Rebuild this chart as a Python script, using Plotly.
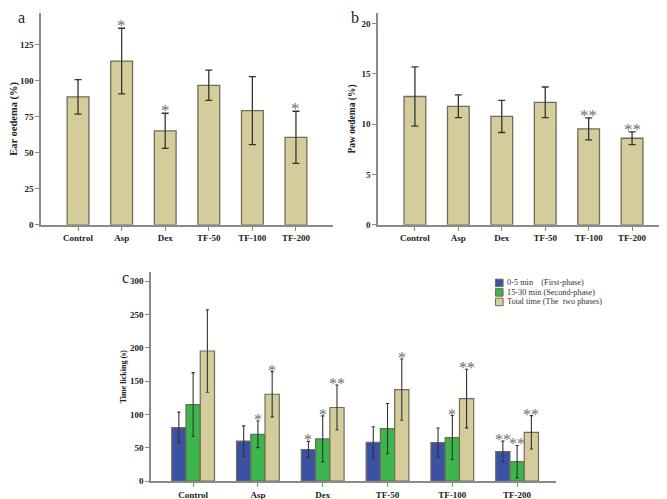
import plotly.graph_objects as go

groups = ["Control", "Asp", "Dex", "TF-50", "TF-100", "TF-200"]

# Panel a: Ear oedema (%)
ear_mean = [88.8, 113.6, 65.2, 96.8, 79.2, 60.7]
ear_err = [12.0, 22.8, 12.2, 10.5, 23.6, 18.1]
ear_sig = ["", "*", "*", "", "", "*"]

# Panel b: Paw oedema (%)
paw_mean = [12.75, 11.77, 10.77, 12.17, 9.53, 8.6]
paw_err = [2.95, 1.13, 1.6, 1.52, 1.1, 0.64]
paw_sig = ["", "", "", "", "**", "**"]

# Panel c: Time licking (s)
series_names = ["0-5 min\u00a0\u00a0\u00a0\u00a0(First-phase)",
                "15-30 min (Second-phase)",
                "Total time\u00a0(The\u00a0\u00a0two phases)"]
lick_first = [80.4, 60.3, 47.6, 58.5, 58.0, 44.6]
lick_first_err = [23.3, 22.8, 12.2, 23.3, 21.8, 15.5]
lick_second = [115.0, 70.4, 63.5, 78.9, 65.5, 29.3]
lick_second_err = [48.0, 20.0, 34.5, 37.7, 33.0, 24.3]
lick_total = [195.4, 130.5, 110.6, 137.4, 124.0, 73.4]
lick_total_err = [62.0, 34.0, 33.7, 46.0, 44.0, 25.0]
lick_sig = [
    ["", "", "*", "", "", "**"],
    ["", "*", "*", "", "*", "**"],
    ["", "*", "**", "*", "**", "**"],
]

KHAKI = "#d4cd9b"
BLUE = "#3b51a3"
GREEN = "#3cb54b"
OUTLINE = "#6f6c58"
AXIS = "#8a8a8a"
STAR = "#707070"
SERIF = "Liberation Serif"

W, H = 667, 499


def px_x(a, b):
    return [a / W, b / W]


def px_y(top, bottom):
    return [1 - bottom / H, 1 - top / H]


fig = go.Figure()

# Panel a
fig.add_trace(go.Bar(
    x=groups, y=ear_mean, width=0.5, marker=dict(color=KHAKI, line=dict(color=OUTLINE, width=1.3)),
    error_y=dict(type="data", array=ear_err, color="#333333", thickness=1.3, width=3.5),
    xaxis="x", yaxis="y", showlegend=False))

# Panel b
fig.add_trace(go.Bar(
    x=groups, y=paw_mean, width=0.5, marker=dict(color=KHAKI, line=dict(color=OUTLINE, width=1.3)),
    error_y=dict(type="data", array=paw_err, color="#333333", thickness=1.3, width=3.5),
    xaxis="x2", yaxis="y2", showlegend=False))

# Panel c
lick_means = [lick_first, lick_second, lick_total]
lick_errs = [lick_first_err, lick_second_err, lick_total_err]
colors = [BLUE, GREEN, KHAKI]
for name, m, e, c in zip(series_names, lick_means, lick_errs, colors):
    fig.add_trace(go.Bar(
        x=groups, y=m, name=name, showlegend=False,
        marker=dict(color=c, line=dict(color=OUTLINE, width=1.2)),
        error_y=dict(type="data", array=e, color="#333333", thickness=1.1, width=1.6),
        xaxis="x3", yaxis="y3"))

annotations = []
shapes = []


def add_sig(xref, yref, means, errs, sigs, xshift=0, size=17):
    for g, m, e, s in zip(groups, means, errs, sigs):
        if s:
            annotations.append(dict(
                x=g, y=m + e, xref=xref, yref=yref, text=s, showarrow=False,
                yanchor="bottom", xshift=xshift, yshift=-9,
                font=dict(family=SERIF, size=size, color=STAR)))


add_sig("x", "y", ear_mean, ear_err, ear_sig)
add_sig("x2", "y2", paw_mean, paw_err, paw_sig)
for i in range(3):
    add_sig("x3", "y3", lick_means[i], lick_errs[i], lick_sig[i], xshift=(i - 1) * 14.3, size=16)

for letter, xp, yp in [("a", 13, 10), ("b", 347, 10), ("c", 117, 272)]:
    annotations.append(dict(x=xp / W, y=1 - yp / H, xref="paper", yref="paper", text=letter,
                            showarrow=False, xanchor="center", yanchor="middle",
                            font=dict(family=SERIF, size=16, color="#222222")))

# legend (drawn as boxes + labels)
leg_x0, leg_row0, leg_dy, box = 487.5, 277.7, 9.6, 7.6
for i, (name, c) in enumerate(zip(series_names, colors)):
    yc = leg_row0 + i * leg_dy
    shapes.append(dict(type="rect", xref="paper", yref="paper",
                       x0=leg_x0 / W, x1=(leg_x0 + box) / W,
                       y0=1 - (yc + box / 2) / H, y1=1 - (yc - box / 2) / H,
                       fillcolor=c, line=dict(color=OUTLINE, width=1)))
    annotations.append(dict(x=(leg_x0 + box + 1.5) / W, y=1 - yc / H, xref="paper", yref="paper",
                            text=name, showarrow=False, xanchor="left", yanchor="middle",
                            font=dict(family=SERIF, size=8.3, color="#333333")))

tickfont = dict(family=SERIF, size=9, color="#222222")
catfont = dict(family=SERIF, size=9, color="#222222")


def tfont(s):
    return dict(family=SERIF, size=s, color="#222222")


xcommon = dict(type="category", showline=True, linecolor=AXIS, linewidth=1.5, ticks="outside",
               ticklen=4, tickcolor=AXIS, tickwidth=1.2, showgrid=False, zeroline=False,
               tickfont=catfont)
ycommon = dict(showline=True, linecolor=AXIS, linewidth=1.5, ticks="outside", ticklen=4,
               tickcolor=AXIS, tickwidth=1.2, showgrid=False, zeroline=False, tickfont=tickfont)

fig.update_layout(
    width=W, height=H, margin=dict(l=0, r=0, t=0, b=0),
    paper_bgcolor="white", plot_bgcolor="white",
    barmode="group", bargap=0.34, bargroupgap=0,
    font=dict(family=SERIF),
    showlegend=False,
    xaxis=dict(xcommon, domain=px_x(33, 325), range=[-0.85, 5.85], anchor="y"),
    yaxis=dict(ycommon, domain=px_y(5, 219), range=[0, 147], tickvals=[0, 25, 50, 75, 100, 125],
               anchor="x", title=dict(text="<b>Ear oedema (%)</b>", font=tfont(10.5), standoff=2)),
    xaxis2=dict(xcommon, domain=px_x(370, 661), range=[-0.85, 5.85], anchor="y2"),
    yaxis2=dict(ycommon, domain=px_y(5, 219), range=[0, 21.05], tickvals=[0, 5, 10, 15, 20],
                anchor="x2", title=dict(text="<b>Paw oedema (%)</b>", font=tfont(9.5), standoff=4)),
    xaxis3=dict(xcommon, domain=px_x(143, 548), range=[-0.65, 5.6], anchor="y3"),
    yaxis3=dict(ycommon, domain=px_y(267, 478), range=[0, 313.5],
                tickvals=[0, 50, 100, 150, 200, 250, 300],
                anchor="x3", title=dict(text="<b>Time licking (s)</b>", font=tfont(8), standoff=2)),
    annotations=annotations,
    shapes=shapes,
)

# bold category labels
for ax in ["xaxis", "xaxis2", "xaxis3"]:
    fig.layout[ax].tickvals = groups
    fig.layout[ax].ticktext = ["<b>%s</b>" % g for g in groups]
for ax in ["yaxis", "yaxis2", "yaxis3"]:
    tv = fig.layout[ax].tickvals
    fig.layout[ax].ticktext = ["<b>%g</b>" % v for v in tv]

fig.write_html("out.html")
